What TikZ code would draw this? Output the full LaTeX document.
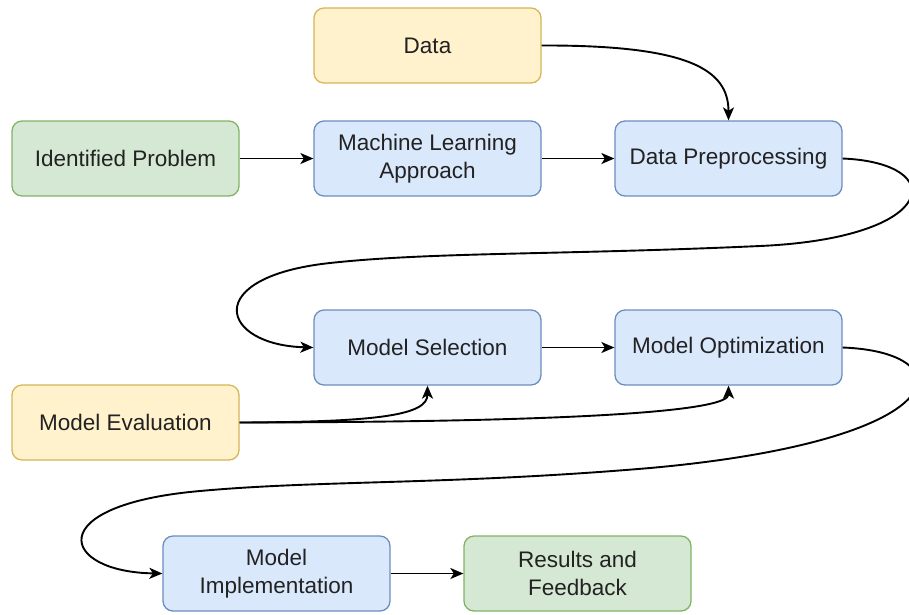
\documentclass[tikz,border=0pt]{standalone}
\usepackage{fontspec}
\setmainfont{Liberation Sans}
\usetikzlibrary{arrows.meta}
\definecolor{gfill}{HTML}{D5E8D4}\definecolor{gline}{HTML}{82B366}
\definecolor{bfill}{HTML}{DAE8FC}\definecolor{bline}{HTML}{6C8EBF}
\definecolor{yfill}{HTML}{FFF2CC}\definecolor{yline}{HTML}{D6B656}
\definecolor{txt}{HTML}{222222}
\tikzset{
  x=1pt, y=-1pt,
  box/.style={draw, line width=1.3pt, rounded corners=10pt, minimum width=227pt,
    minimum height=75pt, align=center, inner sep=0pt, text=txt,
    font=\fontsize{22.5}{28}\selectfont},
  greenbox/.style={box, fill=gfill, draw=gline},
  bluebox/.style={box, fill=bfill, draw=bline},
  yellowbox/.style={box, fill=yfill, draw=yline},
  flow/.style={line width=1.9pt, -{Stealth[length=13pt,width=11pt,inset=3.5pt]}},
}
\begin{document}
\begin{tikzpicture}
\useasboundingbox (0,0) rectangle (909,614);
% boxes
\node[yellowbox] (data) at (427.5,45.5) {Data};
\node[greenbox] (prob) at (125.5,158.5) {Identified Problem};
\node[bluebox] (mla) at (427.5,158.5) {Machine Learning\\Approach};
\node[bluebox] (prep) at (728.5,158.5) {Data Preprocessing};
\node[bluebox] (sel) at (427.5,347.5) {Model Selection};
\node[bluebox] (opt) at (728.5,347.5) {Model Optimization};
\node[yellowbox] (eval) at (125.5,422.5) {Model Evaluation};
\node[bluebox] (impl) at (276.5,573.5) {Model\\Implementation};
\node[greenbox] (res) at (577.5,573.5) {Results and\\Feedback};
% connectors
\draw[flow] (data.east) .. controls (690,45) and (728.5,70) .. (prep.north);
\draw[flow] (prob) -- (mla);
\draw[flow] (mla) -- (prep);
\draw[flow] (prep.east) .. controls (950,163) and (940,238) .. (760,246)
  .. controls (560,255) and (430,252) .. (330,263)
  .. controls (200,277) and (220,345) .. (sel.west);
\draw[flow] (sel) -- (opt);
\draw[flow] (opt.east) .. controls (965,352) and (960,440) .. (650,468)
  .. controls (450,485) and (320,480) .. (200,491)
  .. controls (40,505) and (60,572) .. (impl.west);
\draw[flow] (impl) -- (res);
\draw[flow] (eval.east) .. controls (380,422) and (427.5,415) .. (sel.south);
\draw[flow] (eval.east) .. controls (600,422) and (728.5,410) .. (opt.south);
\end{tikzpicture}
\end{document}
